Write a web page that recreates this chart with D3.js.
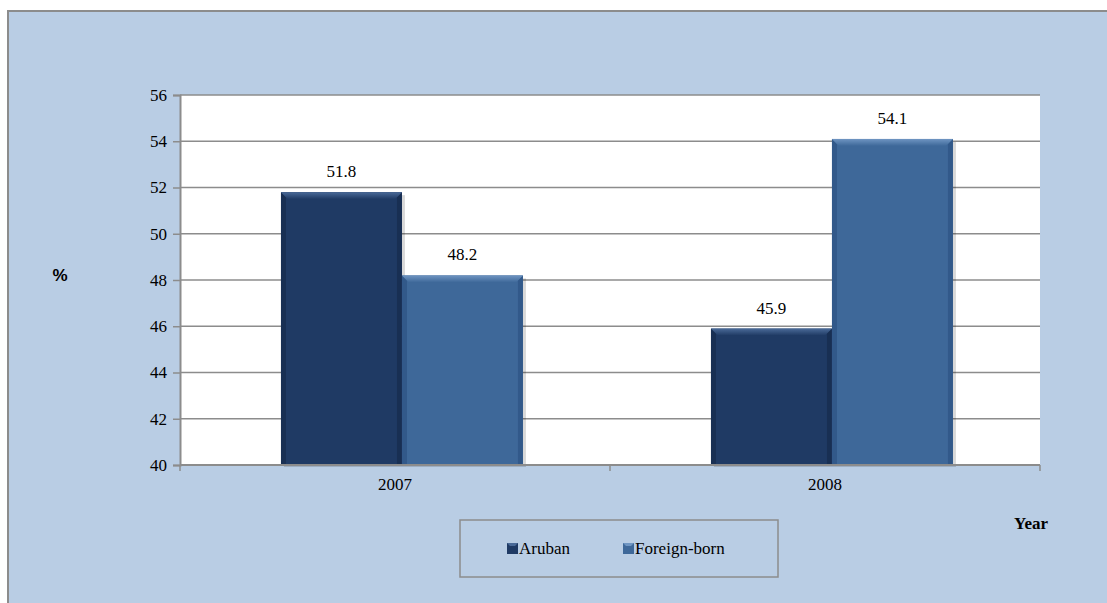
<!DOCTYPE html>
<html>
<head>
<meta charset="utf-8">
<script src="https://cdn.jsdelivr.net/npm/d3@7"></script>
<style>
  body { margin: 0; background: #fff; }
  svg { display: block; }
</style>
</head>
<body>
<svg id="chart" width="1107" height="603"></svg>
<script>
// data
const years = ["2007", "2008"];
const series = ["Aruban", "Foreign-born"];
const aruban = [51.8, 45.9];
const foreignBorn = [48.2, 54.1];
const yTicks = [40, 42, 44, 46, 48, 50, 52, 54, 56];

const colors = { "Aruban": "#1f3a64", "Foreign-born": "#3e6899" };
const light = { "Aruban": "#4a6a98", "Foreign-born": "#6f95c2" };
const dark = { "Aruban": "#142848", "Foreign-born": "#2c5080" };
const serif = "Liberation Serif, Tinos, DejaVu Serif, Times New Roman, serif";

const svg = d3.select("#chart");
const plot = { left: 180, right: 1040, top: 95, bottom: 465 };

// outer chart area
svg.append("rect")
  .attr("x", 8).attr("y", 11)
  .attr("width", 1107).attr("height", 600)
  .attr("fill", "#b9cde4")
  .attr("stroke", "#8c8c8c")
  .attr("stroke-width", 2);

const defs = svg.append("defs");
series.forEach((s, i) => {
  const g = defs.append("linearGradient")
    .attr("id", "top" + i).attr("x1", 0).attr("x2", 0).attr("y1", 0).attr("y2", 1);
  g.append("stop").attr("offset", 0).attr("stop-color", light[s]);
  g.append("stop").attr("offset", 1).attr("stop-color", colors[s]);
});

svg.append("rect")
  .attr("x", plot.left).attr("y", plot.top)
  .attr("width", plot.right - plot.left).attr("height", plot.bottom - plot.top)
  .attr("fill", "#fff");

const x = d3.scaleBand().domain(years).range([plot.left, plot.right]);
const x1 = d3.scaleBand().domain(series).range([0, x.bandwidth()])
  .paddingOuter(0.777).paddingInner(0).align(0.537);
const y = d3.scaleLinear().domain([40, 56]).range([plot.bottom, plot.top]);

// gridlines
svg.append("g").selectAll("line")
  .data(yTicks.slice(1))
  .join("line")
  .attr("x1", plot.left).attr("x2", plot.right)
  .attr("y1", d => y(d)).attr("y2", d => y(d))
  .attr("stroke", "#8c8c8c").attr("stroke-width", 1.5);

// y axis
const yAxis = svg.append("g")
  .attr("transform", `translate(${plot.left},0)`)
  .call(d3.axisLeft(y).tickValues(yTicks).tickSize(7).tickPadding(6).tickFormat(d3.format("d")));
yAxis.attr("font-family", serif).attr("font-size", 17);
yAxis.select(".domain").attr("stroke", "#8c8c8c").attr("stroke-width", 2);
yAxis.selectAll(".tick line").attr("stroke", "#8c8c8c").attr("stroke-width", 1.5);
yAxis.selectAll("text").attr("fill", "#000");

const rows = years.map((yr, i) => ({ year: yr, values: [aruban[i], foreignBorn[i]] }));

const groups = svg.append("g").selectAll("g")
  .data(rows)
  .join("g")
  .attr("transform", d => `translate(${x(d.year)},0)`);

const bars = groups.selectAll("g")
  .data(d => d.values.map((v, i) => ({ key: series[i], value: v, idx: i })))
  .join("g");

// shadow
bars.append("rect")
  .attr("x", d => x1(d.key) + 3)
  .attr("y", d => y(d.value) + 3)
  .attr("width", x1.bandwidth())
  .attr("height", d => plot.bottom - y(d.value) - 1)
  .attr("fill", "#000").attr("opacity", 0.15);

bars.append("rect")
  .attr("x", d => x1(d.key))
  .attr("y", d => y(d.value))
  .attr("width", x1.bandwidth())
  .attr("height", d => plot.bottom - y(d.value))
  .attr("fill", d => colors[d.key]);

// bevel edges: darker sides, light top
bars.append("path")
  .attr("d", d => {
    const x0 = x1(d.key), w = x1.bandwidth(), t = y(d.value), b = 5, bt = plot.bottom;
    return `M${x0 + w},${t}L${x0 + w},${bt}L${x0 + w - b},${bt}L${x0 + w - b},${t + b}Z` +
      `M${x0},${t}L${x0},${bt}L${x0 + b},${bt}L${x0 + b},${t + b}Z`;
  })
  .attr("fill", d => dark[d.key]).attr("opacity", 0.6);

bars.append("path")
  .attr("d", d => {
    const x0 = x1(d.key), w = x1.bandwidth(), t = y(d.value), b = 7;
    return `M${x0},${t}L${x0 + w},${t}L${x0 + w - b},${t + b}L${x0 + b},${t + b}Z`;
  })
  .attr("fill", d => `url(#top${d.idx})`);

bars.append("text")
  .attr("x", d => x1(d.key) + x1.bandwidth() / 2)
  .attr("y", d => y(d.value) - 15)
  .attr("text-anchor", "middle")
  .attr("font-family", serif)
  .attr("font-size", 17)
  .text(d => d.value.toFixed(1));

// x axis
const xAxis = svg.append("g")
  .attr("transform", `translate(0,${plot.bottom})`)
  .call(d3.axisBottom(x).tickSize(0).tickPadding(13));
xAxis.attr("font-family", serif).attr("font-size", 17);
xAxis.select(".domain").remove();
xAxis.append("line")
  .attr("x1", plot.left).attr("x2", plot.right)
  .attr("stroke", "#8c8c8c").attr("stroke-width", 2);
xAxis.selectAll("line.sep")
  .data([plot.left, x("2008"), plot.right])
  .join("line")
  .attr("class", "sep")
  .attr("x1", d => d).attr("x2", d => d)
  .attr("y1", 0).attr("y2", 6)
  .attr("stroke", "#8c8c8c").attr("stroke-width", 1.5);
xAxis.selectAll(".tick text").attr("fill", "#000");

// axis titles
svg.append("text")
  .attr("x", 60).attr("y", 281)
  .attr("text-anchor", "middle")
  .attr("font-family", "Liberation Sans, Arial, sans-serif")
  .attr("font-weight", "bold").attr("font-size", 17)
  .text("%");

svg.append("text")
  .attr("x", 1031).attr("y", 529)
  .attr("text-anchor", "middle")
  .attr("font-family", serif)
  .attr("font-weight", "bold").attr("font-size", 17)
  .text("Year");

// legend
svg.append("rect")
  .attr("x", 460).attr("y", 520)
  .attr("width", 318).attr("height", 57)
  .attr("fill", "none").attr("stroke", "#8c8c8c").attr("stroke-width", 1.5);

const legendPos = [507, 623];
const leg = svg.append("g").selectAll("g")
  .data(series)
  .join("g")
  .attr("transform", (d, i) => `translate(${legendPos[i]},543)`);
leg.append("rect")
  .attr("width", 11).attr("height", 11)
  .attr("fill", d => colors[d]);
leg.append("path")
  .attr("d", "M0,0L11,0L8,3L3,3Z")
  .attr("fill", d => light[d]);
leg.append("text")
  .attr("x", 12).attr("y", 11)
  .attr("font-family", serif)
  .attr("font-size", 17)
  .text(d => d);
</script>
</body>
</html>
